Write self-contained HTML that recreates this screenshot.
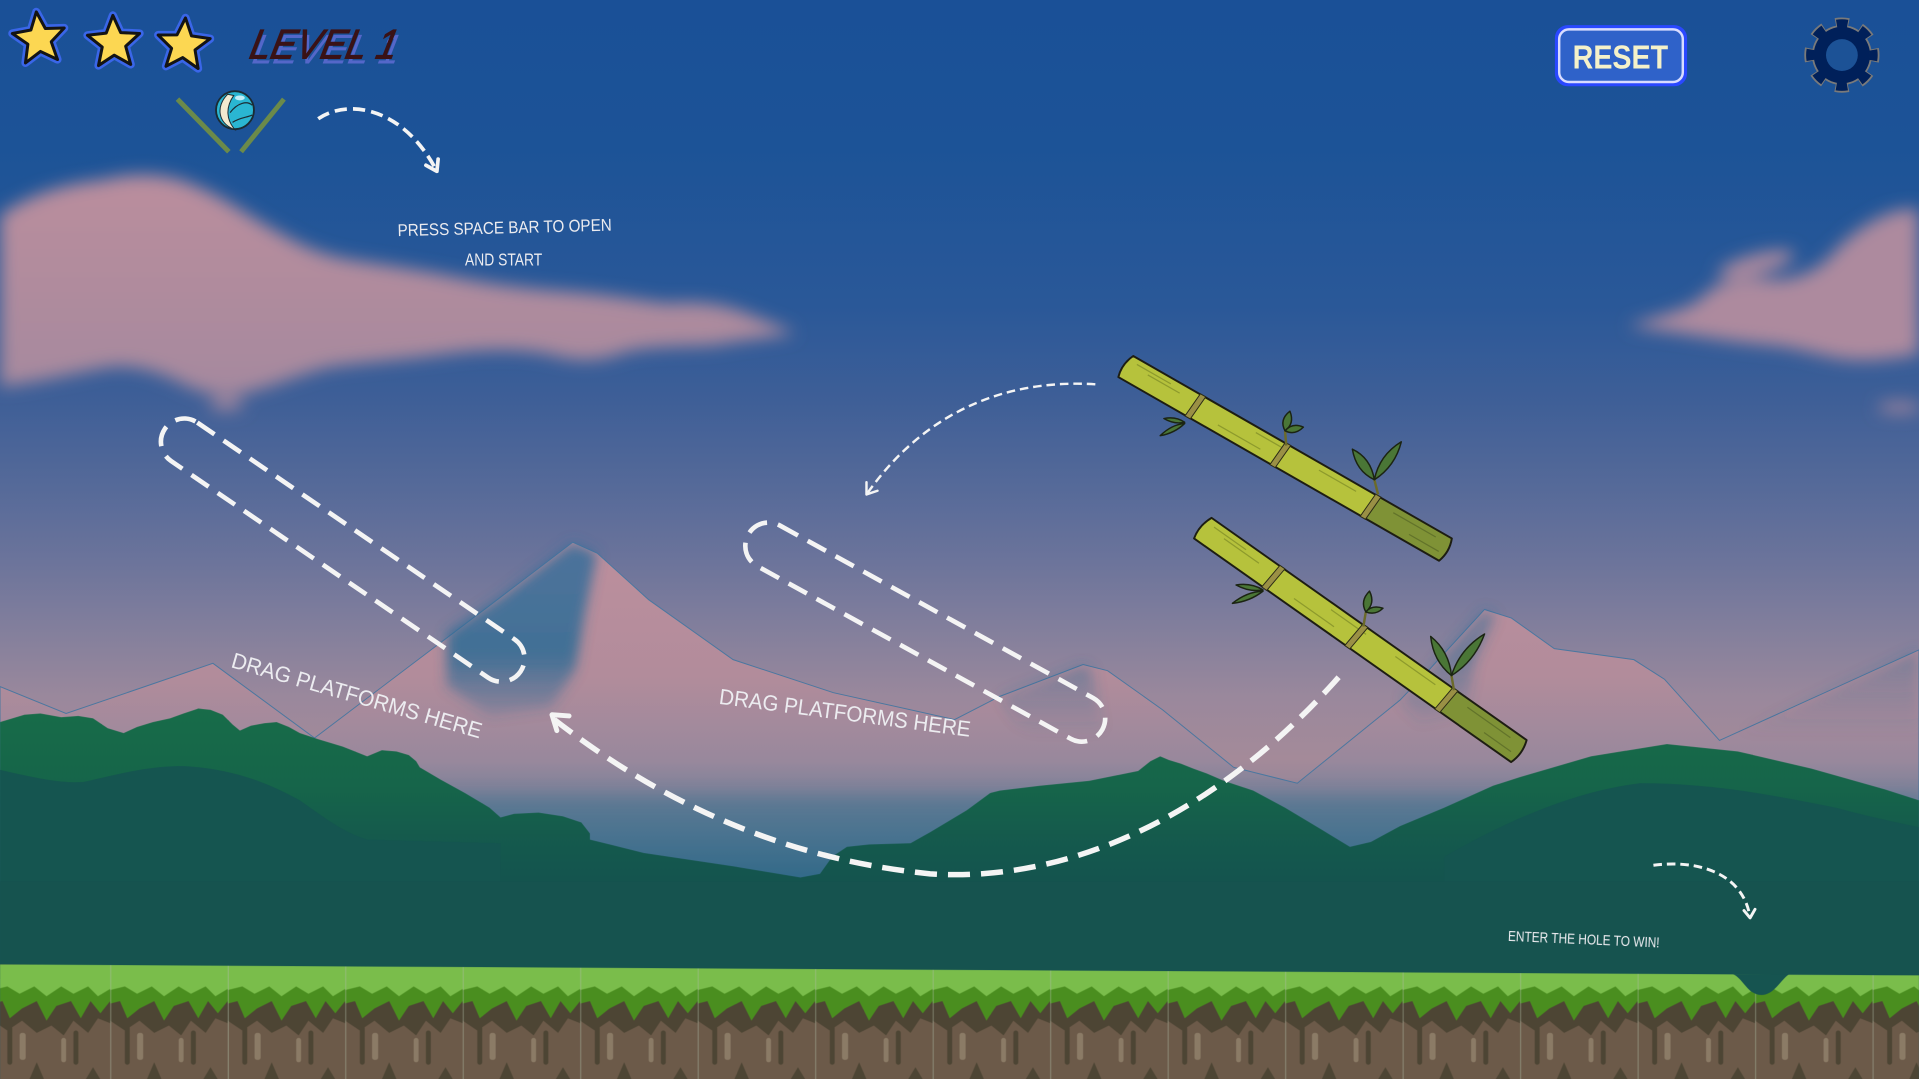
<!DOCTYPE html>
<html><head><meta charset="utf-8">
<style>
html,body{margin:0;padding:0;background:#1b5197;overflow:hidden;}
svg{display:block;}
.lbl{font-family:"Liberation Sans",sans-serif;fill:#ececf0;}
</style></head>
<body>
<svg width="1919" height="1079" viewBox="0 0 1568 881.65" preserveAspectRatio="none" xmlns="http://www.w3.org/2000/svg">
<defs>
<linearGradient id="sky" x1="0" y1="0" x2="0" y2="882" gradientUnits="userSpaceOnUse">
<stop offset="0" stop-color="#1a5097"/>
<stop offset="0.136" stop-color="#1c5397"/>
<stop offset="0.283" stop-color="#2a5898"/>
<stop offset="0.374" stop-color="#3f5f97"/>
<stop offset="0.453" stop-color="#566a99"/>
<stop offset="0.521" stop-color="#6c749b"/>
<stop offset="0.59" stop-color="#85809c"/>
<stop offset="0.646" stop-color="#9a889c"/>
<stop offset="0.703" stop-color="#a48a99"/>
<stop offset="0.748" stop-color="#8d8499"/>
<stop offset="0.794" stop-color="#3d7090"/>
<stop offset="0.82" stop-color="#2f6a88"/>
<stop offset="1" stop-color="#1d5a6a"/>
</linearGradient>
<linearGradient id="mtn" x1="0" y1="440" x2="0" y2="720" gradientUnits="userSpaceOnUse">
<stop offset="0" stop-color="#bd8f9d"/>
<stop offset="0.4" stop-color="#b28c9b"/>
<stop offset="0.65" stop-color="#98889c"/>
<stop offset="0.85" stop-color="#5d7a96"/>
<stop offset="1" stop-color="#33698a"/>
</linearGradient>
<linearGradient id="face" x1="0" y1="440" x2="0" y2="600" gradientUnits="userSpaceOnUse">
<stop offset="0" stop-color="#3a6f9c"/>
<stop offset="0.6" stop-color="#2f6b95"/>
<stop offset="1" stop-color="#2f6b95" stop-opacity="0"/>
</linearGradient>
<linearGradient id="forest" x1="0" y1="580" x2="0" y2="790" gradientUnits="userSpaceOnUse">
<stop offset="0" stop-color="#186c49"/>
<stop offset="0.3" stop-color="#16654a"/>
<stop offset="0.5" stop-color="#155a4d"/>
<stop offset="0.7" stop-color="#14534f"/>
<stop offset="1" stop-color="#16524f"/>
</linearGradient>
<linearGradient id="cloud" x1="0" y1="140" x2="0" y2="325" gradientUnits="userSpaceOnUse">
<stop offset="0" stop-color="#bb8e9d"/>
<stop offset="1" stop-color="#a5899e"/>
</linearGradient>
<filter id="b6" x="-20%" y="-60%" width="140%" height="220%"><feGaussianBlur stdDeviation="7"/></filter>
<filter id="b3" x="-30%" y="-30%" width="160%" height="160%"><feGaussianBlur stdDeviation="5"/></filter>
<pattern id="ground" patternUnits="userSpaceOnUse" x="-6" y="788" width="96" height="94">
<rect width="96" height="94" fill="#6c5a49"/>
<path d="M0,22 L96,22 L96,48 L86,44 L78,56 L66,46 L58,58 L48,50 L36,56 L24,46 L12,54 L0,46 Z" fill="#4d4534"/>
<path d="M0,18 L96,18 L96,30 L88,40 L80,30 L72,44 L64,30 L52,34 L44,46 L36,30 L24,36 L14,44 L8,30 L0,32 Z" fill="#4a8e1f"/>
<path d="M0,0 L96,0 L96,20 L86,26 L78,18 L66,24 L56,18 L44,26 L34,18 L22,24 L12,18 L0,21 Z" fill="#7abd4b"/>
<rect x="22" y="56" width="5" height="22" rx="2" fill="#8b7b66"/>
<rect x="56" y="60" width="4" height="20" rx="2" fill="#8b7b66"/>
<rect x="12" y="50" width="4" height="32" rx="2" fill="#4d4534"/>
<rect x="66" y="54" width="4" height="28" rx="2" fill="#4d4534"/>
<path d="M30,94 L36,80 L42,94 Z M76,94 L82,84 L88,94 Z" fill="#4d4534"/>
<line x1="0.5" y1="0" x2="0.5" y2="94" stroke="#b0bca6" stroke-width="0.8" opacity="0.5"/>
</pattern>
</defs>

<!-- sky -->
<rect x="0" y="0" width="1568" height="882" fill="url(#sky)"/>

<!-- clouds -->
<g filter="url(#b6)">
<path fill="url(#cloud)" d="M0,176 C25,158 55,150 85,147 C110,140 140,142 160,152 C185,162 205,178 228,190 C245,200 262,208 285,212 C310,216 340,220 370,226 C400,232 430,236 460,238 C490,240 515,244 545,248 C570,246 590,248 610,256 C625,262 640,268 650,272 C630,276 605,278 585,282 C560,284 535,282 510,288 C490,296 470,296 450,290 C420,284 390,286 360,290 C330,294 300,296 270,300 C245,306 225,315 205,320 C185,326 165,322 150,314 C130,304 110,298 90,300 C65,304 35,312 0,316 Z"/>
<path fill="#ad8a9e" d="M1330,266 C1345,262 1365,256 1380,250 C1392,244 1396,236 1405,232 C1420,228 1430,226 1445,228 C1460,230 1480,225 1495,210 C1510,192 1530,178 1550,172 L1568,170 L1568,290 C1550,292 1530,296 1510,294 C1490,292 1470,284 1445,282 C1420,280 1395,276 1370,272 C1355,270 1340,268 1330,266 Z"/>
<ellipse cx="1435" cy="216" rx="32" ry="8" transform="rotate(-15 1435 216)" fill="#b08b9e"/>
<ellipse cx="1552" cy="333" rx="18" ry="4" fill="#ad8a9e"/>
<ellipse cx="185" cy="330" rx="14" ry="5" fill="#a98a9f"/>
</g>

<!-- mountains -->
<path fill="url(#mtn)" stroke="#4a77a0" stroke-width="0.8" d="M0,561 L54,583 L174,542 L257,603 L409,488 L468,443 L488,452 L530,490 L599,539 L681,566 L780,588 L817,569 L885,543 L905,548 L950,580 L1008,627 L1060,640 L1144,572 L1168,547 L1213,498 L1235,505 L1270,530 L1335,539 L1360,555 L1405,605 L1568,531 L1568,720 L0,720 Z"/>
<g filter="url(#b3)" fill="url(#face)">
<path d="M468,443 L488,452 L478,500 L470,547 L450,578 L400,585 L365,560 L365,517 L409,488 Z" opacity="0.85"/>
<path d="M885,543 L892,547 L898,580 L905,610 L860,612 L830,590 L817,569 Z" opacity="0.5"/>
<path d="M1213,498 L1222,503 L1205,540 L1198,580 L1160,590 L1144,572 L1168,547 Z" opacity="0.5"/>
<path d="M1405,605 L1568,531 L1568,600 L1480,620 Z" opacity="0.4"/>
</g>
<!-- horizon haze -->
<rect x="0" y="650" width="1568" height="80" fill="#2f6a88" opacity="0.35" filter="url(#b6)"/>

<!-- forest -->
<path fill="url(#forest)" d="M0,590 L20,584 L33,583 L50,586 L64,585 L76,587 L88,595 L101,599 L112,594 L125,590 L139,587 L150,583 L162,579 L172,580 L182,584 L190,592 L196,597 L205,593 L216,591 L226,590 L236,594 L245,599 L260,604 L280,610 L300,618 L312,613 L324,614 L334,617 L340,622 L343,627 L360,637 L380,648 L400,660 L409,668 L420,665 L440,664 L460,667 L475,672 L482,681 L482,686 L526,697 L600,708 L654,717 L670,714 L680,700 L692,692 L710,690 L744,689 L760,680 L790,662 L809,648 L817,646 L850,642 L890,638 L930,630 L940,622 L948,618 L955,621 L965,624 L975,628 L986,632 L1000,638 L1024,646 L1050,660 L1080,678 L1103,692 L1120,688 L1144,675 L1180,660 L1220,642 L1242,635 L1300,618 L1362,608 L1420,614 L1480,628 L1540,645 L1568,654 L1568,800 L0,800 Z"/>
<path fill="#155550" d="M0,629 C30,636 50,640 68,639 C100,632 120,626 150,626 C190,628 220,640 245,654 C265,668 280,680 300,686 L409,689 L409,800 L0,800 Z"/>
<path fill="#155550" d="M1180,700 C1250,660 1300,645 1340,640 C1400,640 1450,650 1500,660 C1530,668 1550,672 1568,676 L1568,800 L1180,800 Z"/>
<rect x="0" y="720" width="1568" height="80" fill="#16534f"/>

<!-- ground -->
<path fill="url(#ground)" d="M0,788 L1568,797 L1568,882 L0,882 Z"/>
<path fill="#165450" d="M1416,796 C1424,799 1428,813 1439,813 C1450,813 1455,800 1462,796 Z"/>

<!-- drop zones -->
<g fill="none" stroke="#f4f4f4" stroke-width="3.8" stroke-dasharray="17 9" stroke-linecap="butt">
<rect x="-19" y="-19" width="351.8" height="38" rx="19" transform="translate(150.5 361) rotate(34.34)"/>
<rect x="-19" y="-19" width="330.3" height="38" rx="19" transform="translate(628 446) rotate(28.84)"/>
</g>
<text class="lbl" x="188" y="545" font-size="18" textLength="212" lengthAdjust="spacingAndGlyphs" transform="rotate(16 188 545)">DRAG PLATFORMS HERE</text>
<text class="lbl" x="587" y="575" font-size="18" textLength="207" lengthAdjust="spacingAndGlyphs" transform="rotate(7.5 587 575)">DRAG PLATFORMS HERE</text>

<!-- arrows -->
<g fill="none" stroke="#f4f4f4" stroke-linecap="round" stroke-linejoin="round">
<path d="M453,588 C520,640 620,700 760,714 C880,722 1000,660 1095,552" stroke-width="4.5" stroke-dasharray="18 9" stroke-linecap="butt"/>
<path d="M455,597 L451,584 L465,585" stroke-width="4"/>
<path d="M895,314 C830,310 760,330 708,404" stroke-width="2" stroke-dasharray="7 4" stroke-linecap="butt"/>
<path d="M717,401 L708,404 L708,394" stroke-width="2"/>
<path d="M260,97 C285,80 330,88 357,140" stroke-width="3" stroke-dasharray="10 5" stroke-linecap="butt"/>
<path d="M358,130 L357,140 L348,135" stroke-width="3"/>
<path d="M1351,707 C1390,702 1425,715 1430,750" stroke-width="2.4" stroke-dasharray="7 4" stroke-linecap="butt"/>
<path d="M1434,743 L1430,750 L1425,744" stroke-width="2.4"/>
</g>

<text class="lbl" x="325" y="193" font-size="14" textLength="175" lengthAdjust="spacingAndGlyphs" transform="rotate(-1.5 325 193)">PRESS SPACE BAR TO OPEN</text>
<text class="lbl" x="380" y="217" font-size="14" textLength="63" lengthAdjust="spacingAndGlyphs">AND START</text>
<text class="lbl" x="1232" y="769" font-size="12" textLength="124" lengthAdjust="spacingAndGlyphs" transform="rotate(2.5 1232 769)">ENTER THE HOLE TO WIN!</text>

<!-- bamboo 1 -->
<g transform="translate(919 299) rotate(29.8)">
<path d="M2,-10.5 L232,-10.5 L232,10.5 L0,10.5 Q-3,0 2,-10.5 Z" fill="#b6c23c"/>
<path d="M232,-10.5 L302,-10.5 Q306,0 302,10.5 L232,10.5 Z" fill="#7f9236"/>
<g stroke="#8d9a2c" stroke-width="1" fill="none">
<path d="M8,-6 L40,-6 M20,-3 L50,-3 M120,-6 L150,-6 M180,-5 L215,-5 M90,4 L130,4"/>
</g>
<g stroke="#62732a" stroke-width="1" fill="none"><path d="M250,-5 L290,-5 M270,4 L298,4"/></g>
<path d="M2,-10.5 L302,-10.5 Q306,0 302,10.5 L0,10.5 Q-3,0 2,-10.5 Z" fill="none" stroke="#1d1d12" stroke-width="1.6" stroke-linejoin="round"/>
<g fill="#9a9045" stroke="#2a2a15" stroke-width="0.8">
<path d="M65,-11 L70,-11 L68,11 L63,11 Z"/>
<path d="M145,-11 L150,-11 L148,11 L143,11 Z"/>
<path d="M230,-11 L235,-11 L233,11 L228,11 Z"/>
</g>
</g>
<!-- bamboo 2 -->
<g transform="translate(982 431) rotate(35.2)">
<path d="M2,-11 L245,-11 L245,11 L0,11 Q-3,0 2,-11 Z" fill="#b6c23c"/>
<path d="M245,-11 L317,-11 Q321,0 317,11 L245,11 Z" fill="#7f9236"/>
<g stroke="#8d9a2c" stroke-width="1" fill="none">
<path d="M8,-6 L40,-6 M20,-3 L55,-3 M125,-6 L160,-6 M190,-5 L230,-5 M95,4 L135,4"/>
</g>
<g stroke="#62732a" stroke-width="1" fill="none"><path d="M262,-5 L305,-5 M285,4 L312,4"/></g>
<path d="M2,-11 L317,-11 Q321,0 317,11 L0,11 Q-3,0 2,-11 Z" fill="none" stroke="#1d1d12" stroke-width="1.6" stroke-linejoin="round"/>
<g fill="#9a9045" stroke="#2a2a15" stroke-width="0.8">
<path d="M70,-11.5 L75,-11.5 L73,11.5 L68,11.5 Z"/>
<path d="M153,-11.5 L158,-11.5 L156,11.5 L151,11.5 Z"/>
<path d="M243,-11.5 L248,-11.5 L246,11.5 L241,11.5 Z"/>
</g>
</g>
<!-- leaves -->
<g stroke="#1b2412" stroke-width="1.2" fill="#4a7636" stroke-linejoin="round">
<path d="M1051,364 L1050,352" fill="none" stroke="#6b6a2a" stroke-width="2"/>
<path d="M1050,352 Q1058,346 1054,336 Q1045,343 1050,352 Z"/>
<path d="M1050,352 Q1058,356 1065,349 Q1056,345 1050,352 Z"/>
<path d="M1126,404 L1123,392" fill="none" stroke="#6b6a2a" stroke-width="2"/>
<path d="M1123,392 Q1120,374 1105,367 Q1108,385 1123,392 Z"/>
<path d="M1123,392 Q1140,381 1145,361 Q1127,372 1123,392 Z"/>
<path d="M968,346 Q959.8,354 948,356 Q957.2,347 968,346 Z"/>
<path d="M968,345 Q959.4,347 951,342 Q960.6,340 968,345 Z"/>
<path d="M1032,483 Q1021.2,491.5 1007,493 Q1018.8,483.5 1032,483 Z"/>
<path d="M1032,482 Q1020.8,484 1010,478 Q1022.2,476 1032,482 Z"/>
<path d="M1114,512 L1116,500" fill="none" stroke="#6b6a2a" stroke-width="2"/>
<path d="M1116,500 Q1124,493 1119,483 Q1111,491 1116,500 Z"/>
<path d="M1116,500 Q1124,503 1130,497 Q1121,494 1116,500 Z"/>
<path d="M1188,564 L1186,552" fill="none" stroke="#6b6a2a" stroke-width="2"/>
<path d="M1186,552 Q1184,532 1169,520 Q1171,540 1186,552 Z"/>
<path d="M1186,552 Q1205,540 1213,518 Q1193,530 1186,552 Z"/>
</g>

<!-- stars -->
<g stroke-linejoin="round">
<g transform="translate(32 32) rotate(-6) scale(1.12)">
<path d="M0,-20 L5.29,-7.28 L19.02,-6.18 L8.56,2.78 L11.76,16.18 L0,9 L-11.76,16.18 L-8.56,2.78 L-19.02,-6.18 L-5.29,-7.28 Z" fill="#3a66e8" stroke="#3a66e8" stroke-width="6"/>
<path d="M0,-20 L5.29,-7.28 L19.02,-6.18 L8.56,2.78 L11.76,16.18 L0,9 L-11.76,16.18 L-8.56,2.78 L-19.02,-6.18 L-5.29,-7.28 Z" fill="#fcd752" stroke="#141414" stroke-width="2.2"/>
</g>
<g transform="translate(93 35) rotate(-2) scale(1.12)">
<path d="M0,-20 L5.29,-7.28 L19.02,-6.18 L8.56,2.78 L11.76,16.18 L0,9 L-11.76,16.18 L-8.56,2.78 L-19.02,-6.18 L-5.29,-7.28 Z" fill="#3a66e8" stroke="#3a66e8" stroke-width="6"/>
<path d="M0,-20 L5.29,-7.28 L19.02,-6.18 L8.56,2.78 L11.76,16.18 L0,9 L-11.76,16.18 L-8.56,2.78 L-19.02,-6.18 L-5.29,-7.28 Z" fill="#fcd752" stroke="#141414" stroke-width="2.2"/>
</g>
<g transform="translate(150 37) rotate(4) scale(1.12)">
<path d="M0,-20 L5.29,-7.28 L19.02,-6.18 L8.56,2.78 L11.76,16.18 L0,9 L-11.76,16.18 L-8.56,2.78 L-19.02,-6.18 L-5.29,-7.28 Z" fill="#3a66e8" stroke="#3a66e8" stroke-width="6"/>
<path d="M0,-20 L5.29,-7.28 L19.02,-6.18 L8.56,2.78 L11.76,16.18 L0,9 L-11.76,16.18 L-8.56,2.78 L-19.02,-6.18 L-5.29,-7.28 Z" fill="#fcd752" stroke="#141414" stroke-width="2.2"/>
</g>
</g>

<!-- level -->
<text x="206" y="52" font-family="Liberation Sans, sans-serif" font-size="34" font-style="italic" fill="#5467c9" textLength="120" lengthAdjust="spacingAndGlyphs" transform="skewX(-12) translate(10 0)">LEVEL 1</text>
<text x="203" y="48" font-family="Liberation Sans, sans-serif" font-size="34" font-style="italic" fill="#3a1216" textLength="120" lengthAdjust="spacingAndGlyphs" transform="skewX(-12) translate(10 0)" stroke="#3a1216" stroke-width="0.8">LEVEL 1</text>

<!-- holder + ball -->
<g stroke="#6b8a4a" stroke-width="4" stroke-linecap="butt">
<line x1="145" y1="81" x2="187" y2="124"/>
<line x1="232" y1="81" x2="197" y2="124"/>
</g>
<circle cx="192" cy="90" r="15.5" fill="#2ab6d2" stroke="#1b2b33" stroke-width="1.5"/>
<path d="M186,77 C176,87 178,101 192,106 C185,98 184,88 191,78 Z" fill="#f1ead0" stroke="#1b2b33" stroke-width="0.8"/>
<path d="M188,92 C194,84 202,82 206,86 M190,100 C196,96 202,96 206,94" fill="none" stroke="#1b2b33" stroke-width="1"/>
<ellipse cx="196" cy="80" rx="4" ry="2" fill="#e8fbff" opacity="0.8"/>

<!-- reset button -->
<rect x="1272" y="22" width="105" height="47" rx="9" fill="none" stroke="#2a48ff" stroke-width="3"/>
<rect x="1274" y="24" width="101" height="43" rx="8" fill="#2f62c9" stroke="#d8dcff" stroke-width="2"/>
<text x="1285" y="56" font-family="Liberation Sans, sans-serif" font-size="27" font-weight="bold" fill="#f5f1c9" textLength="78" lengthAdjust="spacingAndGlyphs">RESET</text>

<!-- gear -->
<g transform="translate(1505 45)">
<circle r="24.5" fill="#7a7a7a"/>
<circle r="26" fill="none" stroke="#7a7a7a" stroke-width="9.5" stroke-dasharray="10.5 9.92" stroke-dashoffset="5.25"/>
<circle r="23" fill="#00205a"/>
<circle r="26" fill="none" stroke="#00205a" stroke-width="6.5" stroke-dasharray="9 11.42" stroke-dashoffset="4.5"/>
<circle r="13" fill="#1c5296"/>
</g>
</svg>
</body></html>
